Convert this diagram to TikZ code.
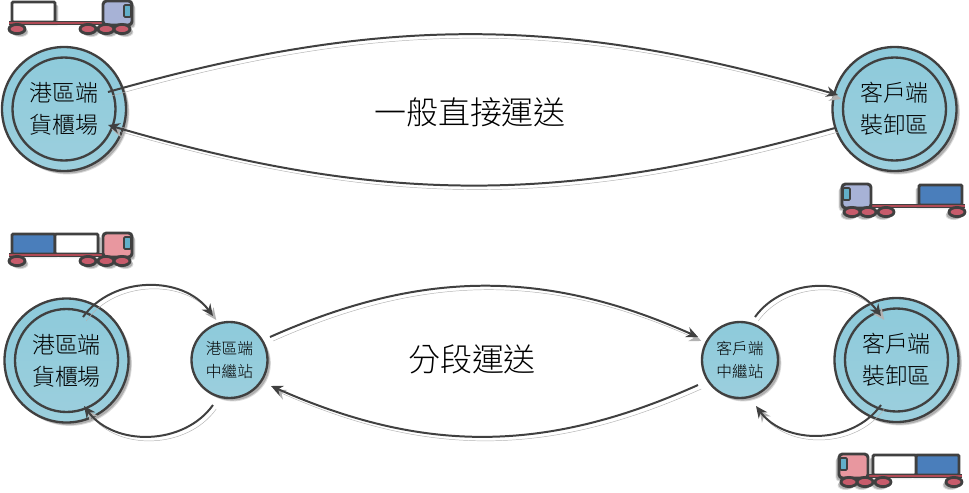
\documentclass[tikz,border=0pt]{standalone}
\usepackage{fontspec}
\setmainfont{Noto Sans CJK TC Light}
\usetikzlibrary{shadows,arrows.meta}

\definecolor{hubteal}{HTML}{93CCDC}
\definecolor{hubtop}{HTML}{8DCADB}
\definecolor{hubfoot}{HTML}{9CCFDD}
\definecolor{inkgray}{HTML}{404040}
\definecolor{cabblue}{HTML}{A7B2D6}
\definecolor{cabpink}{HTML}{E8979F}
\definecolor{loadblue}{HTML}{4A7EBB}
\definecolor{tyrered}{HTML}{C75B6B}
\definecolor{bedred}{HTML}{B04A55}
\definecolor{glassteal}{HTML}{62AFC9}

\tikzset{
	softshadow/.style={
		drop shadow={shadow xshift=1.3*#1, shadow yshift=-2.9pt, fill=black, opacity=0.14},
		drop shadow={shadow xshift=#1, shadow yshift=-2.2pt, fill=black, opacity=0.2}},
	softshadow/.default=2.2pt,
	hubfill/.style={top color=hubtop, bottom color=hubfoot},
	hub/.style={draw=inkgray, line width=2pt, circle, hubfill, softshadow, minimum size=3.72cm, inner sep=0pt},
	hubcore/.style={draw=inkgray, line width=2pt, circle, minimum size=3.09cm, inner sep=0pt, align=center, font=\fontsize{19.6}{27.3}\selectfont},
	relay/.style={draw=inkgray, line width=2pt, circle, hubfill, softshadow, minimum size=2.28cm, inner sep=0pt, align=center, font=\fontsize{13.4}{19.6}\selectfont},
	routetext/.style={font=\fontsize{27.3}{30}\selectfont, inner sep=0pt},
	haul/.style={draw=inkgray, line width=1.7pt, -{Stealth[length=10pt,width=9pt]}, preaction={draw=black!30, transform canvas={shift={(2.8pt,-3.4pt)}}}},
	rigpart/.style={draw=inkgray, line width=2.5pt, rounded corners=1pt},
	pics/truck/.style n args={3}{code={
		\foreach \loadfill [count=\k] in {#2} {
			\path[rigpart, fill=\loadfill, softshadow=#3] ({4+(\k-1)*43},1) rectangle ({4+\k*43},21);
		}
		\path[draw=inkgray, line width=3.8pt, softshadow=#3] (1,22) -- (95,22);
		\path[draw=bedred, line width=1.5pt] (1,22) -- (95,22);
		\path[rigpart, rounded corners=3pt, fill=#1, softshadow=#3] (95,0) rectangle (124,24);
		\path[draw=inkgray, line width=1.5pt, fill=glassteal, rounded corners=1pt] (116,4) rectangle (123,16);
		\foreach \wheelx in {9,80,98,114} {
			\path[draw=inkgray, line width=2.4pt, fill=tyrered, softshadow=#3] (\wheelx,28) ellipse (8 and 4.6);
		}
	}},
}

\begin{document}
\begin{tikzpicture}[x=0.03cm, y=-0.03cm]

	\useasboundingbox (0,0) rectangle (969,492);

	\pic at (8,1) {truck={cabblue}{white}{2.2pt}};
	\pic[xscale=-1] at (966,184) {truck={cabblue}{loadblue}{-2.2pt}};
	\pic at (8,233) {truck={cabpink}{loadblue,white}{2.2pt}};
	\pic[xscale=-1] at (963,454) {truck={cabpink}{loadblue,white}{-2.2pt}};

	\node[hub] (yardtop) at (64,109) {};
	\node[hubcore] (yardtopcore) at (yardtop) {港區端\\貨櫃場};
	\node[hub] (docktop) at (894.5,109) {};
	\node[hubcore] (docktopcore) at (docktop) {客戶端\\裝卸區};

	\node[hub] (yardlow) at (66.5,360.5) {};
	\node[hubcore] (yardlowcore) at (yardlow) {港區端\\貨櫃場};
	\node[relay] (relayleft) at (229.5,360) {港區端\\中繼站};
	\node[relay] (relayright) at (740,360) {客戶端\\中繼站};
	\node[hub] (docklow) at (896.5,360) {};
	\node[hubcore] (docklowcore) at (docklow) {客戶端\\裝卸區};

	\node[routetext] (direct) at (470,112) {一般直接運送};
	\node[routetext] (segment) at (472,359) {分段運送};

	\coordinate (yardtopout) at (108,92);
	\coordinate (docktopin) at (838,95);
	\coordinate (docktopout) at (835,128);
	\coordinate (yardtopin) at (108,125);

	\coordinate (yardlowout) at (83,317);
	\coordinate (relayleftin) at (213,316);
	\coordinate (relayleftback) at (213,405);
	\coordinate (yardlowin) at (84,406);
	\coordinate (relayleftout) at (270,337);
	\coordinate (relayrightin) at (698,337);
	\coordinate (relayrightout) at (698,385);
	\coordinate (relayleftreturn) at (271,386);
	\coordinate (relayrightup) at (755,317);
	\coordinate (docklowin) at (881,316);
	\coordinate (docklowout) at (881,405);
	\coordinate (relayrightback) at (756,406);

	\draw[haul] (yardtopout) to[bend left=16] (docktopin);
	\draw[haul] (docktopout) to[bend left=16] (yardtopin);

	\draw[haul] (yardlowout) to[bend left=54] (relayleftin);
	\draw[haul] (relayleftback) to[bend left=54] (yardlowin);
	\draw[haul] (relayleftout) to[bend left=24] (relayrightin);
	\draw[haul] (relayrightout) to[bend left=24] (relayleftreturn);
	\draw[haul] (relayrightup) to[bend left=54] (docklowin);
	\draw[haul] (docklowout) to[bend left=54] (relayrightback);

\end{tikzpicture}
\end{document}
